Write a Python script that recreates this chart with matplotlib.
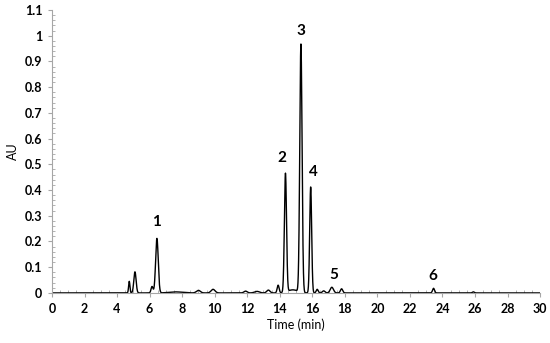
import numpy as np
import matplotlib
matplotlib.use("Agg")
import matplotlib.pyplot as plt
from matplotlib.ticker import MultipleLocator

plt.rcParams['font.family'] = ['Lato', 'DejaVu Sans']

# peak table: retention time (min), height (AU), width (sigma, min)
rt = [4.75, 5.1, 6.15, 6.45, 7.6, 9.0, 9.9, 11.9, 12.6, 13.3, 13.9,
      14.35, 14.8, 15.3, 15.9, 16.3, 16.7, 17.2, 17.8, 23.45, 25.9]
height = [0.045, 0.082, 0.025, 0.212, 0.004, 0.010, 0.014, 0.007, 0.006, 0.011, 0.030,
          0.462, 0.012, 0.965, 0.412, 0.014, 0.008, 0.022, 0.016, 0.018, 0.004]
sigma = [0.04, 0.07, 0.06, 0.08, 0.4, 0.12, 0.12, 0.1, 0.15, 0.1, 0.06,
         0.065, 0.3, 0.07, 0.06, 0.06, 0.08, 0.1, 0.07, 0.06, 0.06]

peak_num = ['1', '2', '3', '4', '5', '6']
label_x = [6.45, 14.1, 15.3, 16.05, 17.3, 23.4]
label_y = [0.275, 0.525, 1.02, 0.47, 0.07, 0.065]

t = np.linspace(0, 30, 6000)
au = np.zeros_like(t)
for c, h, s in zip(rt, height, sigma):
    au += h * np.exp(-0.5 * ((t - c) / s) ** 2)

fig = plt.figure(figsize=(5.5, 3.43), dpi=100)
ax = fig.add_axes([0.0945, 0.146, 0.8875, 0.825])
ax.plot(t, au, color='black', lw=1.0)

for n, x, y in zip(peak_num, label_x, label_y):
    ax.text(x, y, n, ha='center', va='center', fontsize=11, fontweight='bold')

ax.set_xlim(0, 30)
ax.set_ylim(0, 1.1)
ax.xaxis.set_major_locator(MultipleLocator(2))
ax.xaxis.set_minor_locator(MultipleLocator(0.5))
ax.yaxis.set_major_locator(MultipleLocator(0.1))
ax.yaxis.set_minor_locator(MultipleLocator(0.02))
ax.yaxis.set_major_formatter(matplotlib.ticker.FuncFormatter(lambda v, p: f"{v:.1f}".rstrip('0').rstrip('.') if v else '0'))

for s in ['top', 'right']:
    ax.spines[s].set_visible(False)
for s in ['left', 'bottom']:
    ax.spines[s].set_color('#a6a6a6')
    ax.spines[s].set_linewidth(0.8)
ax.tick_params(which='major', direction='out', length=3, color='#a6a6a6', labelsize=9, pad=4)
ax.tick_params(which='minor', direction='in', length=2.5, color='#a6a6a6')
for lbl in ax.get_xticklabels() + ax.get_yticklabels():
    lbl.set_fontweight('bold')

ax.set_xlabel('Time (min)', fontsize=9, labelpad=3)
ax.set_ylabel('AU', fontsize=9, labelpad=4)

fig.savefig('out.png', dpi=100)
